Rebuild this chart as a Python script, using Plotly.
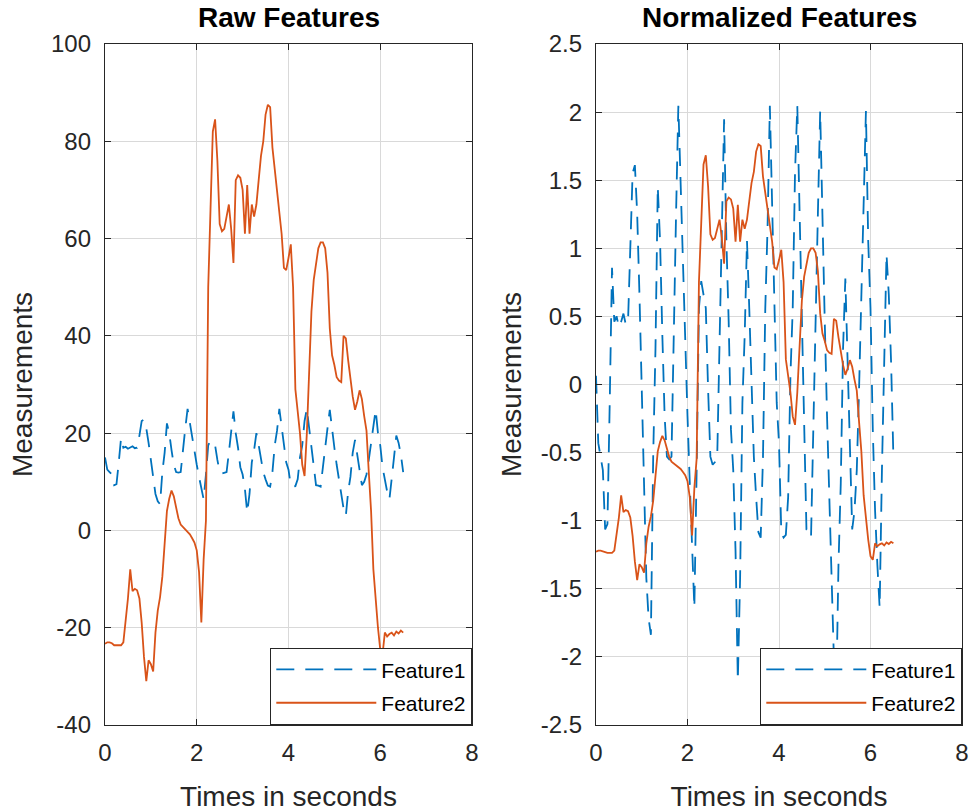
import numpy as np
import plotly.graph_objects as go

# ---------------- data ----------------
SAMPLE_DT = 0.05  # seconds between samples

feature1 = [
    15.0, 12.5, 12.0, 11.5, 9.3, 9.5, 14.0, 19.0, 17.0, 17.2,
    16.8, 17.0, 17.3, 16.9, 17.0, 19.5, 22.5, 22.8, 21.0, 18.0,
    14.5, 10.0, 7.5, 6.0, 5.4, 12.0, 16.0, 22.0, 20.0, 16.5,
    13.5, 12.0, 11.9, 12.0, 17.0, 21.0, 25.0, 22.0, 19.0, 16.5,
    13.5, 11.0, 9.0, 6.4, 11.5, 17.5, 18.5, 18.0, 17.5, 14.5,
    12.0, 11.7, 11.8, 12.0, 16.0, 21.0, 24.5, 20.0, 17.0, 13.0,
    11.5, 8.5, 3.7, 7.5, 14.0, 16.5, 20.0, 17.5, 15.0, 12.0,
    10.5, 9.2, 9.0, 12.0, 17.5, 20.5, 25.0, 21.5, 17.5, 14.0,
    12.5, 9.2, 9.0, 9.1, 10.5, 15.0, 17.5, 22.5, 25.0, 21.0,
    17.0, 12.0, 9.3, 9.2, 9.0, 13.0, 16.5, 21.0, 24.8, 20.5,
    17.0, 13.5, 10.5, 7.5, 4.5, 3.0, 8.0, 11.0, 16.0, 18.6,
    15.5, 12.5, 9.3, 10.0, 11.5, 14.5, 18.0, 21.5, 24.8, 20.0,
    17.5, 13.0, 10.0, 8.0, 6.4, 11.5, 15.0, 19.5, 18.0, 15.5,
    12.0,
]

feature2 = [
    -23.3, -23.0, -23.0, -23.2, -23.6, -23.6, -23.6, -23.6, -23.0, -19.0,
    -14.0, -8.0, -12.5, -12.0, -12.3, -14.0, -19.0, -26.0, -31.0, -26.7,
    -27.5, -29.0, -21.0, -16.5, -13.7, -9.5, -3.5, 4.0, 6.5, 8.2,
    7.0, 5.0, 2.5, 1.2, 0.7, 0.2, -0.3, -0.8, -1.6, -2.5,
    -4.1, -8.5, -18.9, -6.0, 2.0, 50.0, 66.0, 82.0, 84.5, 76.0,
    63.0, 61.5, 62.0, 64.5, 67.0, 62.0, 55.0, 72.0, 73.0, 72.5,
    70.0, 61.0, 71.0, 61.0, 67.0, 64.5, 67.0, 72.0, 77.0, 80.0,
    85.5, 87.5, 87.0, 78.7, 74.5, 70.5, 66.0, 61.0, 54.0, 53.5,
    56.0, 58.8, 50.0, 29.0, 24.5, 20.0, 13.5, 11.2, 20.0, 32.0,
    45.0, 51.5, 54.5, 58.0, 59.2, 59.2, 58.0, 53.0, 41.5, 36.0,
    34.0, 31.5, 30.8, 30.5, 40.0, 39.5, 35.0, 31.0, 27.5, 24.8,
    26.5, 28.8, 27.0, 23.5, 20.5, 12.0, 4.0, -8.0, -14.5, -20.0,
    -24.5, -25.5, -21.0, -21.8, -21.3, -21.0, -21.6, -20.8, -21.2, -20.6,
    -21.0,
]

series_names = ["Feature1", "Feature2"]

x_tick_vals = [0, 2, 4, 6, 8]
x_tick_text = ["0", "2", "4", "6", "8"]
raw_tick_vals = [-40, -20, 0, 20, 40, 60, 80, 100]
raw_tick_text = ["-40", "-20", "0", "20", "40", "60", "80", "100"]
norm_tick_vals = [-2.5, -2, -1.5, -1, -0.5, 0, 0.5, 1, 1.5, 2, 2.5]
norm_tick_text = ["-2.5", "-2", "-1.5", "-1", "-0.5", "0", "0.5", "1", "1.5", "2", "2.5"]

titles = ["Raw Features", "Normalized Features"]
x_label = "Times in seconds"
y_label = "Measurements"

# ---------------- derived ----------------
f1 = np.array(feature1, dtype=float)
f2 = np.array(feature2, dtype=float)
t1 = np.arange(len(f1)) * SAMPLE_DT
t2 = np.arange(len(f2)) * SAMPLE_DT
n1 = (f1 - f1.mean()) / f1.std(ddof=1)
n2 = (f2 - f2.mean()) / f2.std(ddof=1)

# ---------------- style ----------------
W, H = 976, 812
BLUE = "#0072BD"
ORANGE = "#D95319"
AX = "#262626"
FONT = "Liberation Sans, Arial, Helvetica, sans-serif"

L1, R1 = 105, 472
L2, R2 = 596, 962
TOP, BOT = 44, 725

def px_x(p):
    return p / W

def px_y(p):
    return 1 - p / H

fig = go.Figure()

dash1 = "18px,11px"

for xa, ya, leg, y1, y2 in [("x", "y", "legend", f1, f2), ("x2", "y2", "legend2", n1, n2)]:
    fig.add_trace(go.Scatter(
        x=t1, y=y1, mode="lines", name=series_names[0],
        line=dict(color=BLUE, width=1.8, dash=dash1),
        xaxis=xa, yaxis=ya, legend=leg, legendgroup=leg + "a",
    ))
    fig.add_trace(go.Scatter(
        x=t2, y=y2, mode="lines", name=series_names[1],
        line=dict(color=ORANGE, width=1.8),
        xaxis=xa, yaxis=ya, legend=leg, legendgroup=leg + "b",
    ))

axis_common = dict(
    showline=True, linecolor=AX, linewidth=1.3, mirror="ticks",
    ticks="inside", ticklen=6, tickwidth=1.3, tickcolor=AX,
    showgrid=True, gridcolor="#d9d9d9", gridwidth=1, zeroline=False,
    tickfont=dict(family=FONT, size=24, color=AX),
    automargin=False, fixedrange=True,
)

LABEL_FONT = dict(family=FONT, size=28, color=AX)

x_common = dict(axis_common, range=[0, 8], tickmode="array",
                tickvals=x_tick_vals, ticktext=x_tick_text, ticklabelstandoff=6,
                title=dict(text=x_label, font=LABEL_FONT, standoff=22))
y_title = dict(text=y_label, font=LABEL_FONT, standoff=10)

fig.update_layout(
    width=W, height=H,
    margin=dict(l=0, r=0, t=0, b=0),
    paper_bgcolor="white", plot_bgcolor="white",
    showlegend=True,
    xaxis=dict(x_common, domain=[px_x(L1), px_x(R1)], anchor="y"),
    yaxis=dict(axis_common, domain=[px_y(BOT), px_y(TOP)], anchor="x",
               range=[-40, 100], tickmode="array", ticklabelstandoff=8,
               tickvals=raw_tick_vals, ticktext=raw_tick_text, title=y_title),
    xaxis2=dict(x_common, domain=[px_x(L2), px_x(R2)], anchor="y2"),
    yaxis2=dict(axis_common, domain=[px_y(BOT), px_y(TOP)], anchor="x2",
                range=[-2.5, 2.5], tickmode="array", ticklabelstandoff=8,
                tickvals=norm_tick_vals, ticktext=norm_tick_text, title=y_title),
)

legend_common = dict(
    xanchor="right", yanchor="bottom", bgcolor="white",
    bordercolor=AX, borderwidth=1.3,
    font=dict(family=FONT, size=21, color="#000000"),
    traceorder="grouped", tracegroupgap=3, itemwidth=100,
)
fig.update_layout(
    legend=dict(legend_common, x=px_x(R1), y=px_y(BOT)),
    legend2=dict(legend_common, x=px_x(R2), y=px_y(BOT)),
)

for i, (l, r) in enumerate([(L1, R1), (L2, R2)]):
    fig.add_annotation(
        text="<b>" + titles[i] + "</b>", xref="paper", yref="paper",
        x=px_x((l + r) / 2), y=px_y(17), xanchor="center", yanchor="middle",
        showarrow=False, font=dict(family=FONT, size=28, color="#000000"),
    )

fig.write_html("out.html")
